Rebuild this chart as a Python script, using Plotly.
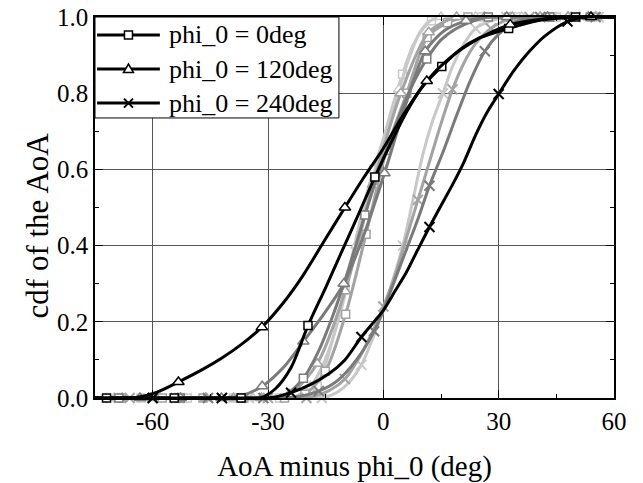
import plotly.graph_objects as go

FONT = "Liberation Serif"

# ---------------- data (x in deg, y = cdf) ----------------
# phi_0 = 0deg  (square markers)
SQ_K_X = [-75, -72, -54.4, -37, -32, -28, -24, -19.6, -15, -11, -7, -2.2, 2, 6, 10, 15.2, 20, 25, 32.6, 40, 50, 60]
SQ_K_Y = [0, 0, 0, 0, 0, 0.025, 0.08, 0.19, 0.29, 0.38, 0.47, 0.58, 0.67, 0.75, 0.815, 0.87, 0.915, 0.945, 0.97, 0.99, 1, 1]
SQ_K_MK = [-72, -54.4, -37, -19.6, -2.2, 15.2, 32.6, 50]

SQ_D_X = [-75, -68.8, -52.8, -36.8, -29, -25, -20.8, -17, -13, -9, -4.8, -1, 3, 7, 11.3, 15, 19, 23, 27.3, 35, 43.3, 60]
SQ_D_Y = [0, 0, 0, 0, 0, 0.012, 0.052, 0.12, 0.22, 0.34, 0.48, 0.6, 0.71, 0.81, 0.89, 0.94, 0.97, 0.988, 1, 1, 1, 1]
SQ_D_MK = [-68.8, -52.8, -36.8, -20.8, -4.8, 11.3, 27.3, 43.3]

SQ_M_X = [-75, -68.1, -57.5, -46.9, -36.3, -25.7, -20.4, -15.1, -9.8, -4.5, 0.8, 6.1, 11.4, 16.7, 22, 32.6, 43.2, 53.8, 60]
SQ_M_Y = [0, 0, 0, 0, 0, 0, 0.01, 0.07, 0.22, 0.43, 0.65, 0.8, 0.946, 0.985, 1, 1, 1, 1, 1]
SQ_M_MK = [-68.1, -57.5, -46.9, -36.3, -25.7, -20.4, -15.1, -9.8, -4.5, 0.8, 6.1, 11.4, 16.7, 22, 32.6, 43.2, 53.8]

SQ_L_X = [-75, -63, -51, -39, -27, -19, -17.2, -15, -12.5, -10, -7.5, -5, -2.5, 0, 2.5, 5, 7.5, 10, 12.5, 15, 25, 35, 45, 55, 60]
SQ_L_Y = [0, 0, 0, 0, 0, 0.005, 0.03, 0.09, 0.18, 0.29, 0.4, 0.51, 0.6, 0.68, 0.77, 0.85, 0.92, 0.965, 0.99, 1, 1, 1, 1, 1, 1]
SQ_L_MK = [-63, -51, -39, -27, -17.2, -10, -2.5, 5, 12.5, 25, 35, 45, 55]

# phi_0 = 120deg  (triangle markers)
TR_K_X = [-75, -68, -64, -59, -53.3, -47, -42, -37, -31.6, -26, -21, -15.5, -10, -5, 0, 5, 11.3, 17, 22.5, 28, 33, 40, 47, 54, 60]
TR_K_Y = [0, 0, 0.002, 0.015, 0.042, 0.075, 0.105, 0.14, 0.186, 0.25, 0.32, 0.41, 0.5, 0.58, 0.655, 0.74, 0.832, 0.89, 0.93, 0.96, 0.98, 0.993, 0.999, 1, 1]
TR_K_MK = [-53.3, -31.6, -10, 11.3, 33, 54]

TR_D_X = [-75, -73.9, -63.3, -52.7, -42.1, -37, -31.5, -26, -20.8, -15.5, -10.3, -5, 0.3, 5.5, 10.9, 16, 21.5, 26, 32.1, 42.7, 53.3, 60]
TR_D_Y = [0, 0, 0, 0, 0, 0.006, 0.031, 0.08, 0.148, 0.22, 0.30, 0.43, 0.59, 0.76, 0.91, 0.965, 0.99, 0.998, 1, 1, 1, 1]
TR_D_MK = [-63.3, -52.7, -42.1, -31.5, -20.8, -10.3, 0.3, 10.9, 21.5, 32.1, 42.7, 53.3]

TR_M_X = [-75, -67.95, -60.7, -53.45, -46.2, -38.95, -31.7, -24.45, -17.2, -9.95, -2.7, 4.55, 11.8, 19.05, 26.3, 33.55, 40.8, 48.05, 55.3, 60]
TR_M_Y = [0, 0, 0, 0, 0, 0, 0, 0.01, 0.09, 0.28, 0.56, 0.8, 0.96, 1, 1, 1, 1, 1, 1, 1]
TR_M_MK = [-67.95, -60.7, -53.45, -46.2, -38.95, -31.7, -24.45, -17.2, -9.95, -2.7, 4.55, 11.8, 19.05, 26.3, 33.55, 40.8, 48.05, 55.3]

TR_L_X = [-75, -70, -58, -46, -34, -24, -19, -16, -13, -10, -7, -4, -1, 1.5, 4.1, 7, 9.5, 12.2, 15, 24, 36, 48, 60]
TR_L_Y = [0, 0, 0, 0, 0, 0, 0.03, 0.08, 0.16, 0.27, 0.4, 0.53, 0.64, 0.72, 0.81, 0.9, 0.96, 0.99, 1, 1, 1, 1, 1]
TR_L_MK = [-70, -58, -46, -34, -19, -7, 4.1, 15, 24, 36, 48]

# phi_0 = 240deg  (x markers)
X_K_X = [-75, -60, -42, -32, -28, -24, -19, -14, -10, -5.7, -2, 0, 3, 6, 9, 12, 15, 18, 21, 24, 27, 30, 34, 38, 42, 47.9, 53, 60]
X_K_Y = [0, 0, 0, 0, 0.003, 0.014, 0.035, 0.065, 0.1, 0.16, 0.205, 0.23, 0.28, 0.33, 0.39, 0.449, 0.505, 0.56, 0.62, 0.69, 0.75, 0.798, 0.86, 0.91, 0.95, 0.988, 1, 1]
X_K_MK = [-60, -42, -24, -5.7, 12, 30, 47.9]

X_D_X = [-75, -74.4, -60, -45.6, -31.2, -22, -16.8, -12, -7, -2.4, 0, 3, 6, 9, 12, 15.5, 19, 22.5, 26.4, 30, 34, 40.8, 55.2, 60]
X_D_Y = [0, 0, 0, 0, 0, 0.004, 0.018, 0.045, 0.1, 0.175, 0.23, 0.31, 0.39, 0.47, 0.557, 0.645, 0.74, 0.83, 0.91, 0.955, 0.985, 1, 1, 1]
X_D_MK = [-60, -45.6, -31.2, -16.8, -2.4, 12, 26.4, 40.8, 55.2]

X_M_X = [-75, -66, -54, -42, -30, -20, -14, -10, -6, -3, 0, 3, 6, 9, 12, 15, 18, 21, 24, 28, 33, 38, 50, 60]
X_M_Y = [0, 0, 0, 0, 0, 0, 0.02, 0.05, 0.11, 0.17, 0.24, 0.32, 0.42, 0.52, 0.62, 0.72, 0.81, 0.88, 0.93, 0.97, 0.995, 1, 1, 1]
X_M_MK = [-66, -54, -42, -30, -20, -10, 0, 9, 18, 28, 38, 50]

X_L_X = [-75, -71, -53, -35, -16, -12, -9, -5.7, -3, 0, 2.5, 5.1, 7.7, 10.3, 12.9, 15.5, 18, 21, 24, 28, 32, 44, 56, 60]
X_L_Y = [0, 0, 0, 0, 0, 0.015, 0.04, 0.087, 0.15, 0.23, 0.31, 0.40, 0.52, 0.64, 0.73, 0.8, 0.87, 0.93, 0.97, 0.99, 1, 1, 1, 1]
X_L_MK = [-71, -53, -35, -16, -5.7, 5.1, 15.5, 24, 32, 44, 56]

LEGEND_NAMES = ["phi_0 = 0deg", "phi_0 = 120deg", "phi_0 = 240deg"]

X_TICKS = [-60, -30, 0, 30, 60]
Y_TICKS = [0.0, 0.2, 0.4, 0.6, 0.8, 1.0]

# ---------------- styling ----------------
C_K, C_D, C_M, C_L = "#000000", "#7a7a7a", "#a3a3a3", "#c8c8c8"
SYM = {"sq": "square", "tr": "triangle-up", "x": "x-thin"}
MSIZE = {"sq": 8, "tr": 10, "x": 10}

series = [
    # lightest first, black last (drawn on top)
    (SQ_L_X, SQ_L_Y, SQ_L_MK, "sq", C_L), (TR_L_X, TR_L_Y, TR_L_MK, "tr", C_L), (X_L_X, X_L_Y, X_L_MK, "x", C_L),
    (SQ_M_X, SQ_M_Y, SQ_M_MK, "sq", C_M), (TR_M_X, TR_M_Y, TR_M_MK, "tr", C_M), (X_M_X, X_M_Y, X_M_MK, "x", C_M),
    (SQ_D_X, SQ_D_Y, SQ_D_MK, "sq", C_D), (TR_D_X, TR_D_Y, TR_D_MK, "tr", C_D), (X_D_X, X_D_Y, X_D_MK, "x", C_D),
    (SQ_K_X, SQ_K_Y, SQ_K_MK, "sq", C_K), (TR_K_X, TR_K_Y, TR_K_MK, "tr", C_K), (X_K_X, X_K_Y, X_K_MK, "x", C_K),
]

fig = go.Figure()


def marker_style(kind, color):
    if kind == "x":
        return dict(symbol=SYM[kind], size=MSIZE[kind], color=color, line=dict(color=color, width=2))
    return dict(symbol=SYM[kind], size=MSIZE[kind], color="white", line=dict(color=color, width=1.5))


for xs, ys, mk, kind, color in series:
    fig.add_trace(go.Scatter(x=xs, y=ys, mode="lines", line=dict(color=color, width=3, shape="spline", smoothing=0.8),
                             showlegend=False, hoverinfo="skip"))
    mx = [x for x in xs if x in mk]
    my = [y for x, y in zip(xs, ys) if x in mk]
    fig.add_trace(go.Scatter(x=mx, y=my, mode="markers", marker=marker_style(kind, color),
                             showlegend=False, cliponaxis=False, hoverinfo="skip"))

# ---------------- legend box (drawn in paper coordinates) ----------------
shapes = [dict(type="rect", xref="paper", yref="paper", x0=0, x1=0.470, y0=0.735, y1=1,
               fillcolor="white", line=dict(color="black", width=1), layer="above")]
annotations = []
ROW_Y = [0.953, 0.8635, 0.774]
LINE_X0, LINE_X1, MARK_X, TEXT_X = 0.004, 0.125, 0.0645, 0.139
MARK_PATHS = {
    "tr": "M-5,-3.5 L5,-3.5 L0,5 Z",
    "x": "M-4.5,-4.5 L4.5,4.5 M-4.5,4.5 L4.5,-4.5",
}
for name, kind, ry in zip(LEGEND_NAMES, ["sq", "tr", "x"], ROW_Y):
    shapes.append(dict(type="line", xref="paper", yref="paper", x0=LINE_X0, x1=LINE_X1, y0=ry, y1=ry,
                       line=dict(color="black", width=3), layer="above"))
    common = dict(xref="paper", yref="paper", xsizemode="pixel", ysizemode="pixel",
                  xanchor=MARK_X, yanchor=ry, layer="above")
    if kind == "sq":
        shapes.append(dict(type="rect", x0=-4, x1=4, y0=-4, y1=4, fillcolor="white",
                           line=dict(color="black", width=1.5), **common))
    elif kind == "tr":
        shapes.append(dict(type="path", path=MARK_PATHS["tr"], fillcolor="white",
                           line=dict(color="black", width=1.5), **common))
    else:
        shapes.append(dict(type="path", path=MARK_PATHS["x"], line=dict(color="black", width=2), **common))
    annotations.append(dict(xref="paper", yref="paper", x=TEXT_X, y=ry, xanchor="left", yanchor="middle",
                            text=name, showarrow=False, font=dict(family=FONT, size=26, color="black")))

# y-axis title placed as a rotated annotation (sits slightly below the plot centre in the reference)
annotations.append(dict(xref="paper", yref="paper", x=-0.111, y=0.454, xanchor="center", yanchor="middle",
                        text="cdf of the AoA", textangle=-90, showarrow=False,
                        font=dict(family=FONT, size=31, color="black")))

axis_common = dict(
    showline=True, linecolor="black", linewidth=1.5, mirror="ticks",
    ticks="inside", ticklen=8, tickwidth=1.2, tickcolor="black",
    showgrid=True, gridcolor="#555555", gridwidth=1, zeroline=False, automargin=False,
    ticklabeloverflow="allow",
    tickfont=dict(family=FONT, size=25, color="black"),
)

fig.update_layout(
    width=643, height=483,
    margin=dict(l=95, r=29, t=17, b=85),
    paper_bgcolor="white", plot_bgcolor="white",
    font=dict(family=FONT, color="black"),
    xaxis=dict(range=[-75, 60], tickvals=X_TICKS, ticktext=[str(v) for v in X_TICKS],
               minor=dict(dtick=15, tick0=0, ticks="inside", ticklen=4, tickcolor="black", showgrid=False),
               title=dict(text="AoA minus phi_0 (deg)", font=dict(family=FONT, size=29), standoff=22),
               **axis_common),
    yaxis=dict(range=[0, 1], tickvals=Y_TICKS, ticktext=[f"{v:.1f}" for v in Y_TICKS],
               minor=dict(dtick=0.1, tick0=0, ticks="inside", ticklen=4, tickcolor="black", showgrid=False),
               **axis_common),
    shapes=shapes, annotations=annotations,
    showlegend=False,
)

# remove the browser's default 8px body margin so the figure fills the window exactly
fig.write_html("out.html", config={"displayModeBar": False},
               post_script="document.body.style.margin='0';")
